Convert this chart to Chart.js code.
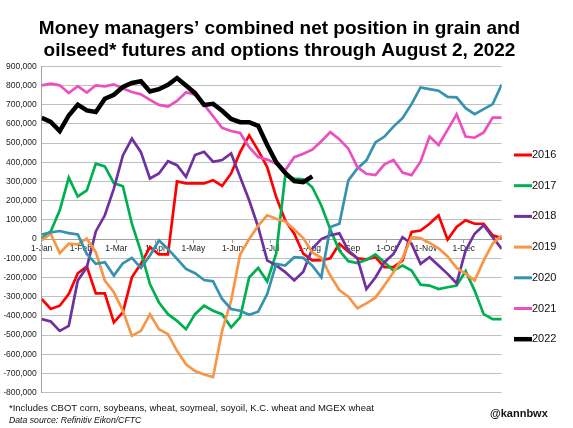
<!DOCTYPE html>
<html>
<head>
<meta charset="utf-8">
<script src="https://cdn.jsdelivr.net/npm/chart.js@4.4.1/dist/chart.umd.min.js"></script>
<style>
  html, body { margin: 0; padding: 0; background: #fff; }
  #wrap { position: relative; width: 573px; height: 428px; }
</style>
</head>
<body>
<div id="wrap"><canvas id="chart" width="573" height="428"></canvas></div>
<script>
// net position in thousands of contracts, one value per week of the year
const years = ['2016', '2017', '2018', '2019', '2020', '2021', '2022'];
const colors = ['#ff0000', '#00b050', '#7030a0', '#f79646', '#3592b0', '#ec4fc0', '#000000'];

const monthDays = [0, 31, 59, 90, 120, 151, 181, 212, 243, 273, 304, 334];
const monthLabels = ['1-Jan', '1-Feb', '1-Mar', '1-Apr', '1-May', '1-Jun',
                     '1-Jul', '1-Aug', '1-Sep', '1-Oct', '1-Nov', '1-Dec'];

const y2016 = [-312,-364,-347,-286,-178,-143,-283,-283,-434,-382, -199,-129,-42,-80,-80,300,290,290,290,307,
               277,342,453,540,462,375,219,97,28,-76, -111,-110,-100,-24,-65,-100,-105,-94,-146,-146,
               -112,37,45,80,124,-3,63,98,80,80, 20,5];
const y2017 = [2,40,150,320,222,254,393,379,292,275, 80,-65,-234,-330,-391,-426,-469,-391,-347,-373,
               -391,-460,-408,-200,-150,-220,-75,330,315,311, 270,175,50,-60,-115,-125,-108,-80,-120,-164,
               -138,-164,-237,-242,-260,-251,-242,-167,-268,-391, -417,-417];
const y2018 = [-417,-429,-478,-452,-216,-147,40,124,263,436, 523,453,316,342,406,385,324,438,455,403,
               412,446,323,202,63,-111,-137,-172,-215,-170, -50,0,20,30,-60,-100,-260,-200,-120,-77,
               10,-24,-129,-94,-138,-181,-230,-59,28,72, 10,-51];
const y2019 = [-7,28,-73,-24,-28,2,-68,-216,-277,-373, -504,-478,-391,-469,-495,-582,-652,-687,-705,-719,
               -478,-321,-80,0,70,124,106,92,50,5, -70,-97,-190,-265,-300,-360,-335,-305,-240,-173,
               -100,10,5,-20,-48,-90,-150,-180,-216,-112, -24,19];
const y2020 = [24,35,42,31,24,-77,-129,-120,-190,-126, -98,-150,-85,-7,-51,-103,-155,-178,-213,-220,
               -312,-364,-373,-394,-378,-286,-129,-138,-94,-98, -138,-199,63,80,306,368,410,504,534,586,
               630,703,790,781,773,741,738,682,651,677, 703,805];
const y2021 = [801,810,801,761,796,763,801,796,806,784, 766,754,725,699,690,720,765,752,700,640,
               580,563,553,479,427,414,393,358,427,445, 466,510,557,520,471,375,340,333,389,412,
               347,333,403,534,490,569,650,534,528,555, 633,633];
const y2022 = [632,610,563,644,700,670,662,731,752,792, 813,822,769,781,804,839,800,760,699,705,
               668,626,609,609,590,490,400,345,302,297, 327];

const series = [y2016, y2017, y2018, y2019, y2020, y2021, y2022];

// 52 weekly points spread over the year (day 0 .. 364)
const weekDay = i => i * 364 / 51;

const font = 'Liberation Sans, Arial, sans-serif';

const datasets = series.map((vals, k) => ({
  label: years[k],
  data: vals.map((v, i) => ({ x: weekDay(i), y: v * 1000 })),
  borderColor: colors[k],
  backgroundColor: colors[k],
  borderWidth: k === 6 ? 4.5 : 2.7,
  pointRadius: 0,
  tension: 0,
  order: 6 - k
}));

// title, legend and footnotes drawn round the plot
const decor = {
  id: 'decor',
  afterDraw(chart) {
    const ctx = chart.ctx;
    ctx.save();
    ctx.fillStyle = '#000';
    ctx.textAlign = 'center';
    ctx.textBaseline = 'alphabetic';
    ctx.font = 'bold 19px ' + font;
    ctx.fillText('Money managers\u2019 combined net position in grain and', 279.5, 33.5);
    ctx.fillText('oilseed* futures and options through August 2, 2022', 279.5, 56);

    // legend
    ctx.textAlign = 'left';
    ctx.textBaseline = 'middle';
    ctx.font = '11px ' + font;
    years.forEach((y, k) => {
      const yy = 155 + k * 30.7;
      ctx.strokeStyle = colors[k];
      ctx.lineWidth = k === 6 ? 4.5 : 3;
      ctx.beginPath();
      ctx.moveTo(514, yy);
      ctx.lineTo(532, yy);
      ctx.stroke();
      ctx.fillStyle = '#111';
      ctx.fillText(y, 532, yy);
    });

    ctx.textBaseline = 'alphabetic';
    ctx.fillStyle = '#111';
    ctx.font = '9.5px ' + font;
    ctx.fillText('*Includes CBOT corn, soybeans, wheat, soymeal, soyoil, K.C. wheat and MGEX wheat', 9, 410.7);
    ctx.font = 'italic 8.7px ' + font;
    ctx.fillText('Data source: Refinitiv Eikon/CFTC', 9, 423.3);
    ctx.font = 'bold 11px ' + font;
    ctx.fillText('@kannbwx', 490, 416.5);
    ctx.restore();
  }
};

new Chart(document.getElementById('chart'), {
  type: 'line',
  data: { datasets },
  options: {
    responsive: false,
    animation: false,
    layout: { padding: { left: 4, right: 71.3, top: 66.3, bottom: 35.3 } },
    plugins: {
      legend: { display: false },
      title: { display: false },
      tooltip: { enabled: false }
    },
    scales: {
      x: {
        type: 'linear',
        min: 0,
        max: 364,
        position: { y: 0 },
        afterBuildTicks: axis => { axis.ticks = monthDays.map(v => ({ value: v })); },
        ticks: {
          autoSkip: false,
          maxRotation: 0,
          padding: 1,
          color: '#222',
          font: { family: font, size: 8.5 },
          callback: v => monthLabels[monthDays.indexOf(v)]
        },
        grid: { drawOnChartArea: false, drawTicks: true, tickLength: 3, color: '#a0a0a0' },
        border: { display: true, color: '#a0a0a0', width: 1 }
      },
      y: {
        min: -800000,
        max: 900000,
        afterFit: s => { s.width = 37.7; },
        ticks: {
          stepSize: 100000,
          padding: 5,
          color: '#222',
          font: { family: font, size: 8.5 },
          callback: v => v.toLocaleString('en-US')
        },
        grid: { color: '#c0c0c0', lineWidth: 1, drawTicks: false },
        border: { display: true, color: '#a0a0a0', width: 1 }
      }
    }
  },
  plugins: [decor]
});
</script>
</body>
</html>
